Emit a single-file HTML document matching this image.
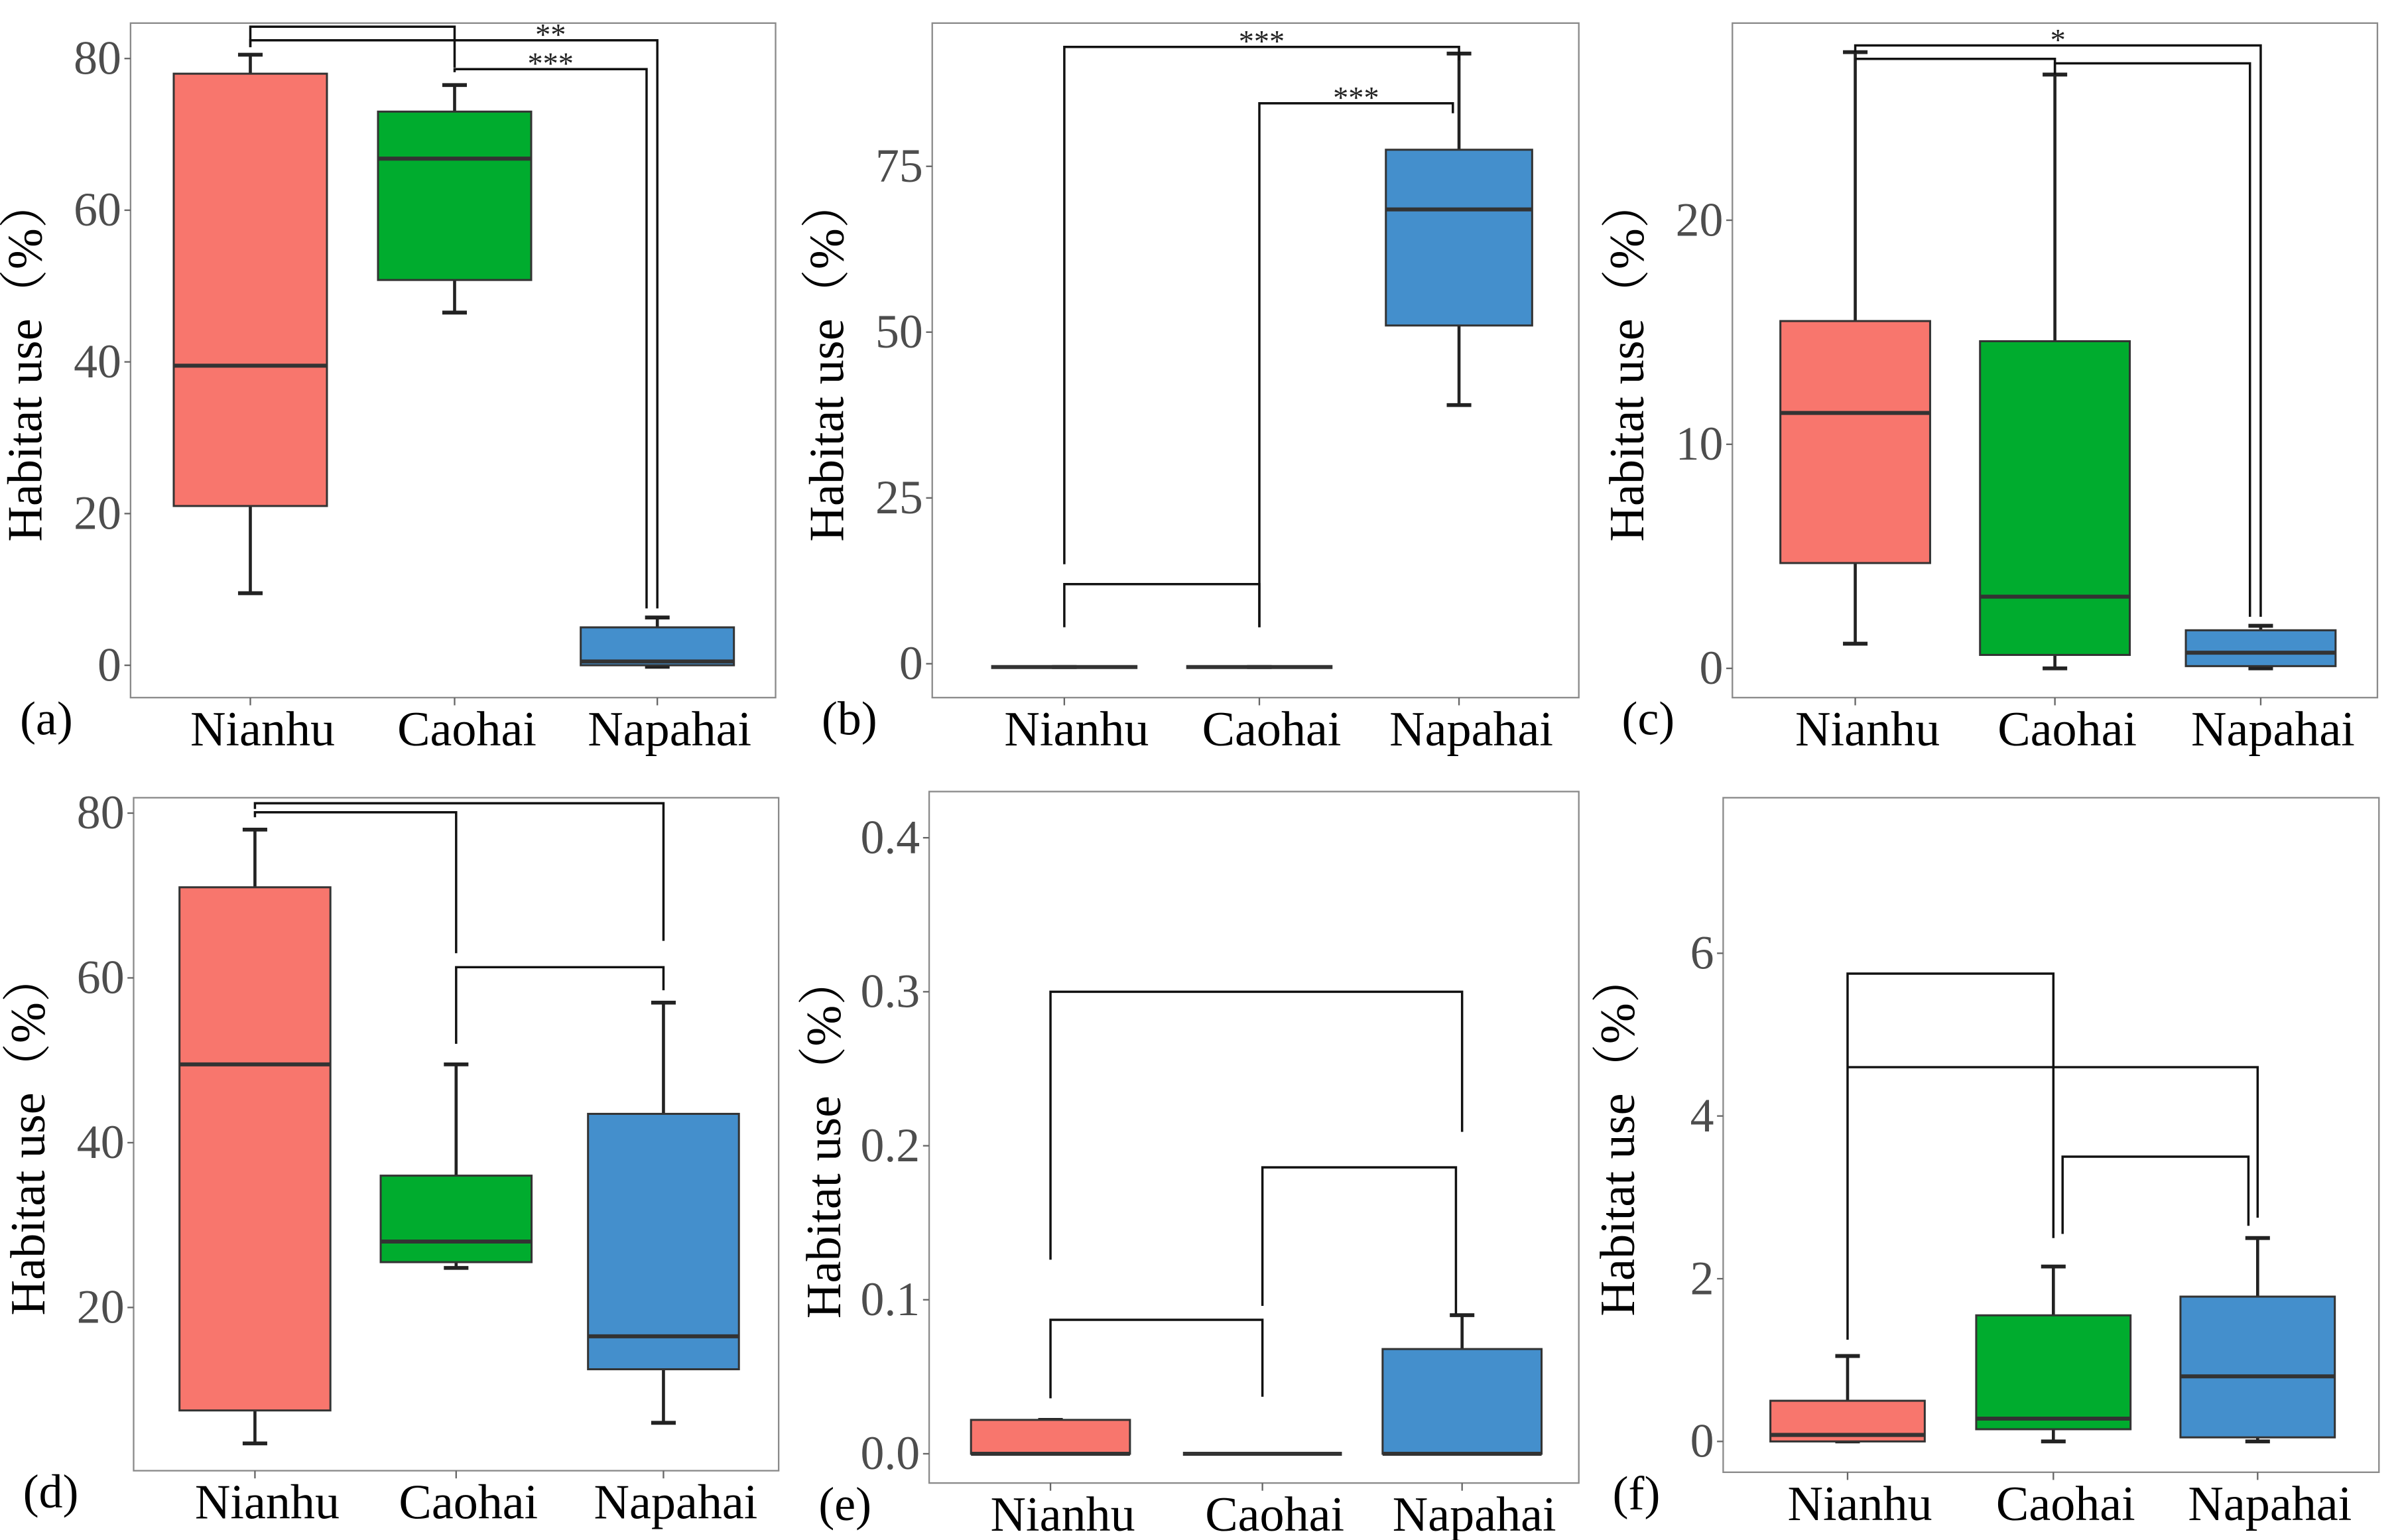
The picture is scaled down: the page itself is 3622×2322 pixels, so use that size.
<!DOCTYPE html>
<html><head><meta charset="utf-8"><style>
html,body{margin:0;padding:0;background:#fff;}
svg{display:block;}
svg text{font-family:"Liberation Serif","Noto Serif CJK SC",serif;}
</style></head><body>
<svg id="fig" width="3622" height="2322" viewBox="0 0 1564 1000" preserveAspectRatio="none" xmlns="http://www.w3.org/2000/svg" font-family="Liberation Serif, Noto Serif CJK SC, serif"></svg>
<script>
const categories = ["Nianhu","Caohai","Napahai"];
const colors = ["#F8766D","#00AC2E","#448FCC"];
// box stats per panel: [whiskerLow, q1, median, q3, whiskerHigh]
const statsA = [[9.5,21,39.5,78,80.5],[46.5,50.8,66.8,73,76.5],[-0.2,0,0.5,5,6.3]];
const statsB = [[-0.5,-0.5,-0.5,-0.5,-0.5],[-0.5,-0.5,-0.5,-0.5,-0.5],[39,51,68.5,77.5,92]];
const statsC = [[1.1,4.7,11.4,15.5,27.5],[0,0.6,3.2,14.6,26.5],[0,0.1,0.7,1.7,1.9]];
const statsD = [[3.5,7.5,49.5,71,78],[24.8,25.5,28,36,49.5],[6,12.5,16.5,43.5,57]];
const statsE = [[0,0,0,0.022,0.022],[0,0,0,0,0],[0,0,0,0.068,0.09]];
const statsF = [[0,0,0.08,0.5,1.05],[0,0.15,0.28,1.55,2.15],[0,0.05,0.8,1.78,2.5]];
// brackets: [fromIdx, toIdx, barValue, leftEndValue, rightEndValue, label]
const bracketsA = [[0,1,84.2,81.5,78.8,""],[0,2,82.4,81.5,7.5,"**"],[1,2,78.6,78.2,7.5,"***"]];
const bracketsB = [[0,1,12,5.5,5.5,""],[0,2,93,15,91,"***"],[1,2,84.5,5.5,83,"***"]];
const bracketsC = [[0,2,27.8,27.5,2.3,"*"],[0,1,27.2,27.2,26.5,""],[1,2,27.0,26.5,2.3,""]];
const bracketsD = [[0,2,81.2,80.5,64.5,""],[0,1,80.1,79.5,63,""],[1,2,61.3,52,58.5,""]];
const bracketsE = [[0,2,0.30,0.126,0.209,""],[1,2,0.186,0.096,0.091,""],[0,1,0.087,0.036,0.037,""]];
const bracketsF = [[0,1,5.75,1.25,2.5,""],[0,2,4.6,4.6,2.75,""],[1,2,3.5,2.55,2.65,""]];
const ticksA = [0,20,40,60,80], ticksB=[0,25,50,75], ticksC=[0,10,20], ticksD=[20,40,60,80];
const ticksE = [0,0.1,0.2,0.3,0.4], ticksF=[0,2,4,6];
const tickLabE = ["0.0","0.1","0.2","0.3","0.4"];

const panels = [
 {id:"a",stats:statsA,br:bracketsA,ticks:ticksA,frame:[85,15,505,453],v0:0,p0:432,v1:80,p1:38,cx:[163,296,428],off:[0,0,-7]},
 {id:"b",stats:statsB,br:bracketsB,ticks:ticksB,frame:[607,15,1028,453],v0:0,p0:431,v1:75,p1:108,cx:[693,820,950],off:[0,0,-4]},
 {id:"c",stats:statsC,br:bracketsC,ticks:ticksC,frame:[1128,15,1548,453],v0:0,p0:434,v1:20,p1:143,cx:[1208,1338,1472],off:[0,0,-7]},
 {id:"d",stats:statsD,br:bracketsD,ticks:ticksD,frame:[87,518,507,955],v0:20,p0:849,v1:80,p1:528,cx:[166,297,432],off:[0,0,0]},
 {id:"e",stats:statsE,br:bracketsE,ticks:ticksE,labels:tickLabE,frame:[605,514,1028,963],v0:0,p0:944,v1:0.4,p1:544,cx:[684,822,952],off:[0,0,-4]},
 {id:"f",stats:statsF,br:bracketsF,ticks:ticksF,frame:[1122,518,1549,956],v0:0,p0:936,v1:6,p1:619,cx:[1203,1337,1470],off:[0,6,-6]}
];
const FONT = '"Liberation Serif", "Noto Serif CJK SC", serif';
const svg = document.getElementById("fig");
const NS="http://www.w3.org/2000/svg";
function mk(tag, attrs, parent){const e=document.createElementNS(NS,tag);for(const k in attrs)e.setAttribute(k,attrs[k]);if(tag==="text")e.style.fontFamily=FONT;(parent||svg).appendChild(e);return e;}
panels.forEach(p=>{
  const g=mk("g",{});
  
  
  const y=v=>p.p0+(v-p.v0)*(p.p1-p.p0)/(p.v1-p.v0);
  const [fx0,fy0,fx1,fy1]=p.frame;
  const bw=(p.cx[1]-p.cx[0])*0.75;
  const fr=mk("rect",{x:fx0,y:fy0,width:fx1-fx0,height:fy1-fy0,fill:"none",stroke:"#8a8a8a","stroke-width":1},g);
  
  
  p.ticks.forEach((t,i)=>{
    mk("line",{x1:fx0-4,x2:fx0,y1:y(t),y2:y(t),stroke:"#666","stroke-width":1},g);
    const tl=mk("text",{x:fx0-6,y:y(t)+10,"text-anchor":"end","font-size":31,fill:"#4d4d4d"},g);
    tl.textContent=p.labels?p.labels[i]:String(t);
    
    
  });
  const yt=mk("text",{x:0,y:0,transform:`translate(${fx0-58},${(fy0+fy1)/2}) rotate(-90)`,"text-anchor":"middle","font-size":32,fill:"#000"},g);
  yt.textContent="Habitat  use（%）";
  
  
  const pl=mk("text",{x:fx0-72,y:fy1+24,"font-size":31,fill:"#000"},g);
  pl.textContent="("+p.id+")";
  
  
  categories.forEach((c,i)=>{
    const cx=p.cx[i]; const s=p.stats[i];
    mk("line",{x1:cx,x2:cx,y1:fy1,y2:fy1+5,stroke:"#666","stroke-width":1},g);
    const xl=mk("text",{x:cx+8,y:fy1+31,"text-anchor":"middle","font-size":32,fill:"#000"},g);
    xl.textContent=c;
    
    
    const bg=mk("g",{},g);
    
    
    mk("line",{x1:cx,x2:cx,y1:y(s[0]),y2:y(s[4]),stroke:"#222","stroke-width":2},bg);
    mk("line",{x1:cx-8,x2:cx+8,y1:y(s[0]),y2:y(s[0]),stroke:"#222","stroke-width":2.5},bg);
    mk("line",{x1:cx-8,x2:cx+8,y1:y(s[4]),y2:y(s[4]),stroke:"#222","stroke-width":2.5},bg);
    mk("rect",{x:cx-bw/2,y:y(s[3]),width:bw,height:Math.max(0,y(s[1])-y(s[3])),fill:colors[i],stroke:"#333","stroke-width":1.3},bg);
    mk("line",{x1:cx-bw/2,x2:cx+bw/2,y1:y(s[2]),y2:y(s[2]),stroke:"#333","stroke-width":2.6},bg);
  });
  p.br.forEach(b=>{
    const xa=p.cx[b[0]]+(b[0]===1?p.off[1]:0), xb=p.cx[b[1]]+(b[1]===2&&b[0]===1?p.off[2]:0);
    const pth=mk("path",{d:`M${xa},${y(b[3])}V${y(b[2])}H${xb}V${y(b[4])}`,fill:"none",stroke:"#111","stroke-width":1.5},g);
    
    
    if(b[5]){
      const st=mk("text",{x:(xa+xb)/2+(p.id==="a"&&b[0]===0?63:0),y:y(b[2])+3,"text-anchor":"middle","font-size":20,fill:"#222"},g);
      st.textContent=b[5];
      
      
    }
  });
});
</script>
</body></html>
